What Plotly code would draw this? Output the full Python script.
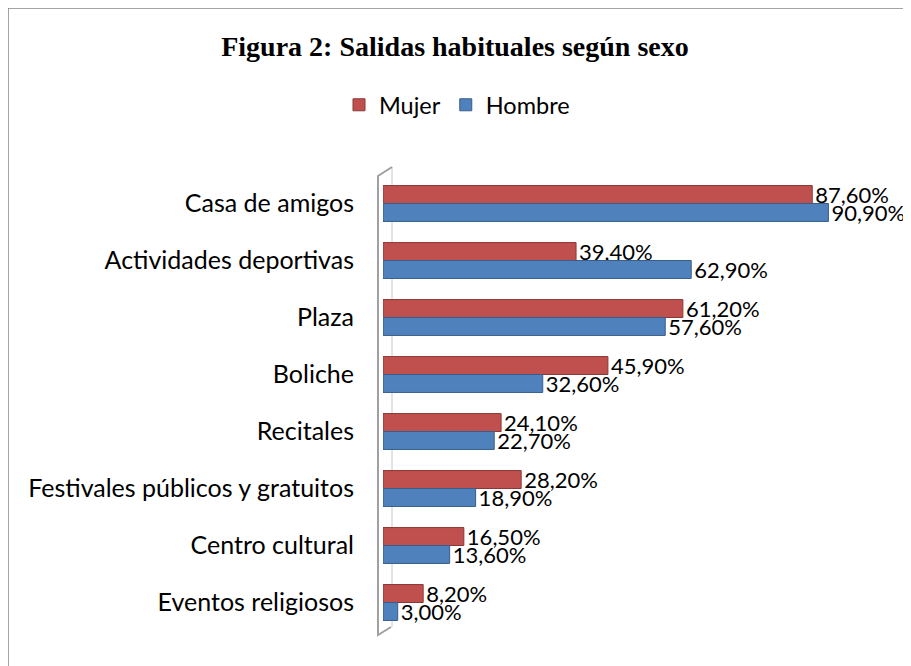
import plotly.graph_objects as go

categories = ["Casa de amigos", "Actividades deportivas", "Plaza", "Boliche",
              "Recitales", "Festivales públicos y gratuitos", "Centro cultural",
              "Eventos religiosos"]
mujer = [0.876, 0.394, 0.612, 0.459, 0.241, 0.282, 0.165, 0.082]
hombre = [0.909, 0.629, 0.576, 0.326, 0.227, 0.189, 0.136, 0.030]
series_names = ["Mujer", "Hombre"]
title_text = "Figura 2: Salidas habituales según sexo"

OFF = 8  # page body margin
W, H = 911 - OFF, 666 - OFF
ML = 383 - OFF
MT = 175 - OFF
MR = W - (873 - OFF)
MB = H - (631 - OFF)
PW, PH = W - ML - MR, H - MT - MB

def px_x(p):  # page pixel -> paper x
    return (p - OFF - ML) / PW

def px_y(p):  # page pixel -> paper y
    return (H - MB - (p - OFF)) / PH

FONT = "Lato"
fig = go.Figure()
for name, vals, col, dark in [(series_names[0], mujer, "#C0504D", "#8C3836"),
                              (series_names[1], hombre, "#4F81BD", "#385D8A")]:
    fig.add_trace(go.Bar(
        y=categories, x=vals, name=name, orientation="h",
        marker=dict(color=col, line=dict(color=dark, width=1)),
        texttemplate="%{x:.2%}", textposition="outside",
        textfont=dict(family=FONT, size=22, color="#000000"),
        constraintext="none", cliponaxis=False,
    ))

fig.update_layout(
    width=W, height=H,
    margin=dict(l=ML, r=MR, t=MT, b=MB),
    paper_bgcolor="white", plot_bgcolor="white",
    separators=",.",
    barmode="group", bargap=0.37, bargroupgap=0,
    title=dict(text="<b>" + title_text + "</b>",
               x=(455 - OFF) / W, xref="container", xanchor="center",
               y=1 - (46 - OFF) / H, yref="container", yanchor="middle",
               font=dict(family="Liberation Serif", size=28, color="#000000")),
    legend=dict(orientation="h", x=(457 - OFF) / W, xref="container", xanchor="center",
                y=1 - (105 - OFF) / H, yref="container", yanchor="middle",
                font=dict(family=FONT, size=23.5, color="#000000"),
                traceorder="normal", itemwidth=30),
    showlegend=True,
    xaxis=dict(range=[0, 1], visible=False, showgrid=False, zeroline=False),
    yaxis=dict(autorange="reversed", showgrid=False, zeroline=False, showline=False,
               ticks="", ticklabelstandoff=28,
               tickfont=dict(family=FONT, size=25, color="#000000")),
)

# 3D wall on the left axis
wall = (f"M {px_x(392)},{px_y(167)} L {px_x(378)},{px_y(176)} "
        f"L {px_x(378)},{px_y(635)} L {px_x(391)},{px_y(627)}")
fig.add_shape(type="path", path=wall, xref="paper", yref="paper",
              line=dict(color="#A0A0A0", width=2), layer="above")
fig.add_shape(type="line", xref="paper", yref="paper",
              x0=px_x(392), x1=px_x(392), y0=px_y(167), y1=px_y(627),
              line=dict(color="#C8C8C8", width=1), layer="below")

# outer frame
fig.add_shape(type="rect", xref="paper", yref="paper",
              x0=px_x(7.5), x1=px_x(930), y0=px_y(690), y1=px_y(7.5),
              line=dict(color="#868686", width=2.5), fillcolor="rgba(0,0,0,0)")

fig.write_html("out.html")
